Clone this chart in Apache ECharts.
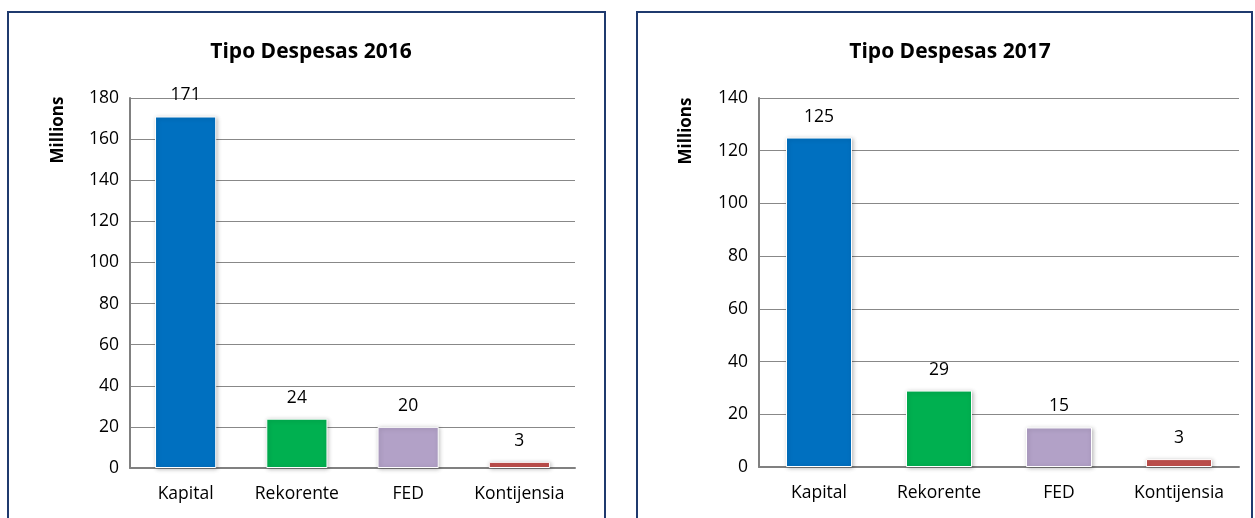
<!DOCTYPE html>
<html><head><meta charset="utf-8">
<script src="https://cdn.jsdelivr.net/npm/echarts@6/dist/echarts.min.js"></script>
<style>html,body{margin:0;padding:0;background:#fff}#c{width:1255px;height:518px}</style>
</head><body><div id="c"></div>
<script>
const categories = ['Kapital', 'Rekorente', 'FED', 'Kontijensia'];
const values2016 = [171, 24, 20, 3];
const values2017 = [125, 29, 15, 3];
const colors = ['#0070C0', '#00B050', '#B2A1C7', '#C0504D'];
const title2016 = 'Tipo Despesas 2016';
const title2017 = 'Tipo Despesas 2017';
const yName = 'Millions';

const FONT = '"Open Sans", "Noto Sans", sans-serif';
const chart = echarts.init(document.getElementById('c'), null, {renderer: 'canvas'});

function mkData(vals) {
  return vals.map((v, i) => ({
    value: v,
    itemStyle: {color: colors[i]}
  }));
}
function yAxis(gi, max, interval) {
  return {
    type: 'value', gridIndex: gi, min: 0, max: max, interval: interval,
    axisLine: {show: true, lineStyle: {color: '#808080', width: 2}},
    axisTick: {show: false},
    axisLabel: {color: '#000', fontSize: 17.5, fontFamily: FONT, margin: 11},
    splitLine: {lineStyle: {color: '#888888', width: 1}}
  };
}
function xAxis(gi) {
  return {
    type: 'category', gridIndex: gi, data: categories,
    axisLine: {show: true, lineStyle: {color: '#808080', width: 2}},
    axisTick: {show: false},
    axisLabel: {color: '#000', fontSize: 17.5, fontFamily: FONT, margin: 17, interval: 0, hideOverlap: false}
  };
}
function series(gi, vals) {
  return {
    type: 'bar', xAxisIndex: gi, yAxisIndex: gi, data: mkData(vals),
    barWidth: '55%',
    itemStyle: {borderColor: '#fff', borderWidth: 1, shadowBlur: 4, shadowColor: 'rgba(0,0,0,0.25)', shadowOffsetX: 1, shadowOffsetY: 1},
    label: {show: true, position: 'top', distance: 12, color: '#000', fontSize: 17.5, fontFamily: FONT}
  };
}

chart.setOption({
  animation: false,
  backgroundColor: '#fff',
  title: [
    {text: title2016, left: 306, top: 37, textAlign: 'center', textStyle: {fontSize: 21, fontWeight: 'bold', fontFamily: FONT, color: '#000'}},
    {text: title2017, left: 945, top: 37, textAlign: 'center', textStyle: {fontSize: 21, fontWeight: 'bold', fontFamily: FONT, color: '#000'}}
  ],
  grid: [
    {left: 130, top: 98, width: 445, height: 370},
    {left: 759, top: 98, width: 480, height: 369}
  ],
  xAxis: [xAxis(0), xAxis(1)],
  yAxis: [yAxis(0, 180, 20), yAxis(1, 140, 20)],
  series: [series(0, values2016), series(1, values2017)],
  graphic: [
    {type: 'rect', shape: {x: 8, y: 12, width: 597, height: 520}, style: {fill: 'none', stroke: '#1F3A6E', lineWidth: 2}, silent: true},
    {type: 'rect', shape: {x: 637, y: 12, width: 615, height: 520}, style: {fill: 'none', stroke: '#1F3A6E', lineWidth: 2}, silent: true},
    {type: 'text', x: 58, y: 130, rotation: Math.PI / 2, style: {text: yName, fill: '#000', font: 'bold 17px ' + FONT, textAlign: 'center', textVerticalAlign: 'middle'}},
    {type: 'text', x: 686, y: 131, rotation: Math.PI / 2, style: {text: yName, fill: '#000', font: 'bold 17px ' + FONT, textAlign: 'center', textVerticalAlign: 'middle'}}
  ]
});
</script></body></html>
